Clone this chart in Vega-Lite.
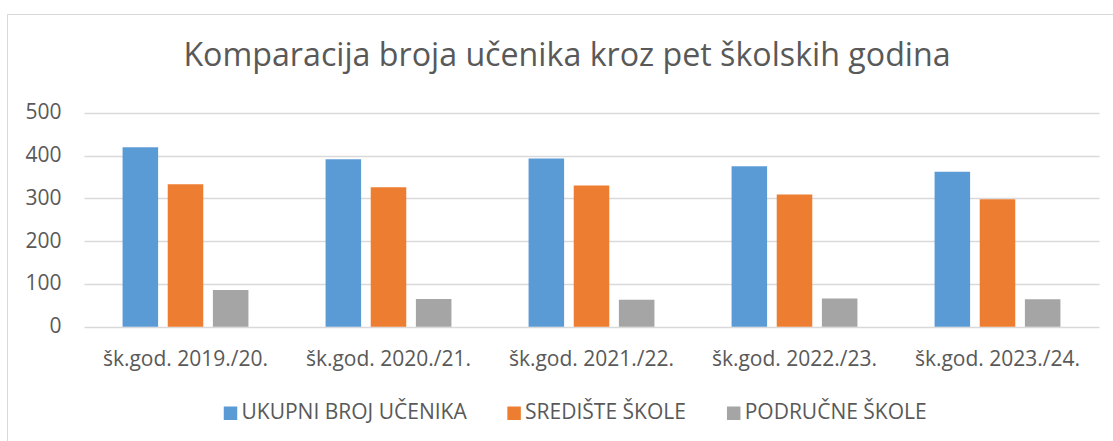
{
  "$schema": "https://vega.github.io/schema/vega-lite/v6.json",
  "autosize": "none",
  "padding": {"left": 7, "top": 14, "right": 0, "bottom": 0},
  "width": 1120,
  "height": 440,
  "background": "white",
  "title": {
    "text": "Komparacija broja učenika kroz pet školskih godina",
    "anchor": "middle",
    "baseline": "alphabetic",
    "offset": -84,
    "font": "Open Sans",
    "fontSize": 32.2,
    "fontWeight": "normal",
    "color": "#595959"
  },
  "data": {
    "values": [
      {"godina": "šk.god. 2019./20.", "serija": "UKUPNI BROJ UČENIKA", "broj": 419},
      {"godina": "šk.god. 2019./20.", "serija": "SREDIŠTE ŠKOLE", "broj": 333},
      {"godina": "šk.god. 2019./20.", "serija": "PODRUČNE ŠKOLE", "broj": 86},
      {"godina": "šk.god. 2020./21.", "serija": "UKUPNI BROJ UČENIKA", "broj": 391},
      {"godina": "šk.god. 2020./21.", "serija": "SREDIŠTE ŠKOLE", "broj": 326},
      {"godina": "šk.god. 2020./21.", "serija": "PODRUČNE ŠKOLE", "broj": 65},
      {"godina": "šk.god. 2021./22.", "serija": "UKUPNI BROJ UČENIKA", "broj": 393},
      {"godina": "šk.god. 2021./22.", "serija": "SREDIŠTE ŠKOLE", "broj": 330},
      {"godina": "šk.god. 2021./22.", "serija": "PODRUČNE ŠKOLE", "broj": 63},
      {"godina": "šk.god. 2022./23.", "serija": "UKUPNI BROJ UČENIKA", "broj": 375},
      {"godina": "šk.god. 2022./23.", "serija": "SREDIŠTE ŠKOLE", "broj": 309},
      {"godina": "šk.god. 2022./23.", "serija": "PODRUČNE ŠKOLE", "broj": 66},
      {"godina": "šk.god. 2023./24.", "serija": "UKUPNI BROJ UČENIKA", "broj": 362},
      {"godina": "šk.god. 2023./24.", "serija": "SREDIŠTE ŠKOLE", "broj": 298},
      {"godina": "šk.god. 2023./24.", "serija": "PODRUČNE ŠKOLE", "broj": 64}
    ]
  },
  "mark": {"type": "bar"},
  "encoding": {
    "x": {
      "field": "godina",
      "type": "nominal",
      "sort": null,
      "scale": {"range": [77, 1092], "paddingInner": 0.38, "paddingOuter": 0.19},
      "axis": {
        "title": null,
        "orient": "bottom",
        "offset": -89,
        "domain": false,
        "ticks": false,
        "labelPadding": 0,
        "labelBaseline": "alphabetic",
        "labelAngle": 0,
        "labelLimit": 0,
        "labelFont": "Open Sans",
        "labelFontSize": 21,
        "labelColor": "#595959",
        "grid": false
      }
    },
    "xOffset": {
      "field": "serija",
      "type": "nominal",
      "sort": ["UKUPNI BROJ UČENIKA", "SREDIŠTE ŠKOLE", "PODRUČNE ŠKOLE"],
      "scale": {"paddingInner": 0.213, "paddingOuter": 0}
    },
    "y": {
      "field": "broj",
      "type": "quantitative",
      "scale": {"domain": [0, 500], "range": [312.7, 98.7], "nice": false},
      "axis": {
        "title": null,
        "values": [0, 100, 200, 300, 400, 500],
        "offset": -54,
        "domain": false,
        "ticks": false,
        "labelPadding": 0,
        "labelFont": "Open Sans",
        "labelFontSize": 21,
        "labelColor": "#595959",
        "grid": true,
        "gridColor": "#d9d9d9",
        "gridWidth": 1.3
      }
    },
    "color": {
      "field": "serija",
      "type": "nominal",
      "sort": ["UKUPNI BROJ UČENIKA", "SREDIŠTE ŠKOLE", "PODRUČNE ŠKOLE"],
      "scale": {
        "domain": ["UKUPNI BROJ UČENIKA", "SREDIŠTE ŠKOLE", "PODRUČNE ŠKOLE"],
        "range": ["#5b9bd5", "#ed7d31", "#a5a5a5"]
      },
      "legend": {
        "title": null,
        "orient": "none",
        "direction": "horizontal",
        "legendX": 213,
        "legendY": 388.5,
        "symbolType": "square",
        "symbolSize": 182,
        "symbolStrokeWidth": 0,
        "symbolOpacity": 1,
        "labelOffset": 0.5,
        "columnPadding": 36.6,
        "labelFont": "Open Sans",
        "labelFontSize": 21,
        "labelColor": "#595959",
        "labelLimit": 0
      }
    }
  },
  "config": {
    "view": {"stroke": "#d9d9d9", "strokeWidth": 1}
  }
}
